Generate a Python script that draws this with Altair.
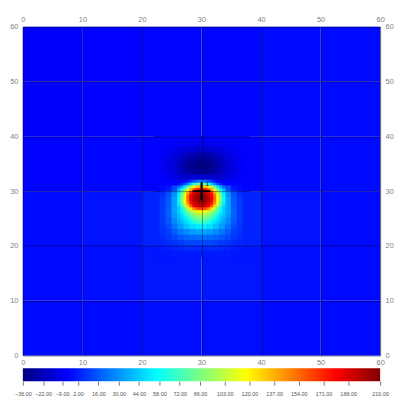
import altair as alt
import pandas as pd

AXIS_TICKS = [0, 10, 20, 30, 40, 50, 60]
CBAR_TICKS = [-36, -22, -9, 2, 16, 30, 44, 58, 72, 86, 103, 120, 137, 154, 171, 188, 210]

# Background field, 10x10 blocks. Rows: Y 50-60 (top) ... Y 0-10 (bottom); cols X 0-10 ... 50-60
BG_ROWS = [
    [-6, -5, -4, -4, -3, -3],
    [-6, -5, -4, -4, -3, -3],
    [-5, -4, -5, -5, -3, -3],
    [-3, -1, 3, 3, -1, -3],
    [-3, -2, 0, 0, -2, -3],
    [-3, -3, -2, -2, -3, -3],
]
BG_STEP = 10

# Field around the anomaly, 1x1 cells. Columns: X 22..37 (left edges); rows: Y 39 (top) .. 18
DETAIL_X0 = 22
DETAIL_YTOP = 39
DETAIL_ROWS = [
    [-5, -5, -6, -6, -6, -7, -7, -7, -7, -7, -7, -6, -6, -6, -5, -5],
    [-5, -5, -6, -7, -8, -9, -10, -11, -11, -10, -9, -8, -7, -6, -5, -5],
    [-5, -6, -8, -10, -12, -15, -17, -18, -18, -17, -15, -12, -10, -8, -6, -5],
    [-5, -7, -10, -13, -17, -21, -25, -27, -27, -25, -21, -17, -13, -10, -7, -5],
    [-5, -8, -11, -15, -21, -27, -32, -34, -34, -32, -27, -21, -15, -11, -8, -5],
    [-5, -8, -11, -15, -22, -29, -34, -36, -36, -34, -29, -22, -15, -11, -8, -5],
    [-5, -8, -11, -15, -21, -27, -31, -32, -32, -31, -27, -21, -15, -11, -8, -5],
    [-5, -7, -9, -12, -16, -18, -17, -15, -15, -17, -18, -16, -12, -9, -7, -5],
    [-5, -5, -6, -6, -2, 10, 32, 45, 45, 32, 10, -2, -6, -6, -5, -5],
    [-5, -3, 0, 12, 30, 70, 125, 150, 150, 125, 70, 30, 12, 0, -3, -5],
    [3, 6, 14, 30, 55, 115, 180, 200, 200, 180, 115, 55, 30, 14, 6, 3],
    [3, 8, 16, 34, 68, 130, 188, 208, 208, 188, 130, 68, 34, 16, 8, 3],
    [3, 9, 17, 34, 68, 125, 182, 200, 200, 182, 125, 68, 34, 17, 9, 3],
    [3, 9, 18, 34, 62, 105, 150, 165, 165, 150, 105, 62, 34, 18, 9, 3],
    [3, 9, 18, 32, 52, 80, 102, 112, 112, 102, 80, 52, 32, 18, 9, 3],
    [3, 9, 16, 28, 42, 58, 70, 75, 75, 70, 58, 42, 28, 16, 9, 3],
    [3, 8, 13, 23, 33, 42, 49, 52, 52, 49, 42, 33, 23, 13, 8, 3],
    [3, 7, 10, 17, 24, 29, 33, 35, 35, 33, 29, 24, 17, 10, 7, 3],
    [3, 5, 8, 12, 16, 19, 21, 22, 22, 21, 19, 16, 12, 8, 5, 3],
    [3, 4, 5, 7, 9, 11, 12, 12, 12, 12, 11, 9, 7, 5, 4, 3],
    [0, 1, 2, 3, 4, 5, 5, 5, 5, 5, 5, 4, 3, 2, 1, 0],
    [0, 0, 0, 1, 1, 1, 1, 1, 1, 1, 1, 1, 1, 0, 0, 0],
]

# Core of the anomaly, 0.5x0.5 cells. Columns: X 26.0..33.5 (left edges); rows: Y 31.5 (top) .. 24.0
CORE_X0 = 26.0
CORE_YTOP = 31.5
CORE_STEP = 0.5
CORE_ROWS = [
    [-9, -8, -6, -2, 5, 12, 20, 25, 25, 20, 12, 5, -2, -6, -8, -9],
    [-2, 4, 14, 28, 45, 62, 74, 80, 80, 74, 62, 45, 28, 14, 4, -2],
    [20, 34, 52, 76, 98, 115, 129, 136, 136, 129, 115, 98, 76, 52, 34, 20],
    [38, 58, 85, 113, 139, 160, 175, 181, 181, 175, 160, 139, 113, 85, 58, 38],
    [50, 75, 104, 135, 165, 183, 192, 196, 196, 192, 183, 165, 135, 104, 75, 50],
    [54, 85, 114, 150, 179, 191, 200, 204, 204, 200, 191, 179, 150, 114, 85, 54],
    [56, 88, 118, 155, 182, 195, 203, 209, 209, 203, 195, 182, 155, 118, 88, 56],
    [56, 87, 117, 153, 181, 193, 202, 208, 208, 202, 193, 181, 153, 117, 87, 56],
    [53, 82, 112, 145, 174, 189, 197, 202, 202, 197, 189, 174, 145, 112, 82, 53],
    [48, 71, 100, 128, 157, 180, 188, 192, 192, 188, 180, 157, 128, 100, 71, 48],
    [43, 57, 78, 101, 122, 144, 159, 166, 166, 159, 144, 122, 101, 78, 57, 43],
    [45, 55, 71, 85, 98, 107, 114, 117, 117, 114, 107, 98, 85, 71, 55, 45],
    [42, 50, 61, 73, 84, 92, 98, 100, 100, 98, 92, 84, 73, 61, 50, 42],
    [40, 46, 54, 64, 75, 83, 88, 90, 90, 88, 83, 75, 64, 54, 46, 40],
    [37, 43, 49, 56, 65, 73, 78, 81, 81, 78, 73, 65, 56, 49, 43, 37],
    [34, 39, 45, 49, 55, 61, 67, 69, 69, 67, 61, 55, 49, 45, 39, 34],
]

MARKER_X = [30]
MARKER_Y = [30]
MARKER_LABEL = ["1"]
MARKER_LABEL_X = [31]
MARKER_LABEL_Y = [31.3]


def cells(rows, x0, ytop, step):
    recs = []
    for r, row in enumerate(rows):
        for c, v in enumerate(row):
            cx = x0 + c * step
            cy = ytop - r * step
            recs.append({"x0": cx, "x1": cx + step, "y0": cy, "y1": cy + step, "v": v})
    return pd.DataFrame(recs)


bg_df = cells(BG_ROWS, 0, (len(BG_ROWS) - 1) * BG_STEP, BG_STEP)
det_df = cells(DETAIL_ROWS, DETAIL_X0, DETAIL_YTOP, 1)
core_df = cells(CORE_ROWS, CORE_X0, CORE_YTOP, CORE_STEP)

mk_df = pd.DataFrame({"x": MARKER_X, "y": MARKER_Y})
lb_df = pd.DataFrame({"x": MARKER_LABEL_X, "y": MARKER_LABEL_Y, "t": MARKER_LABEL})

JET_STOPS = [0, 0.125, 0.375, 0.625, 0.875, 1]
JET_COLORS = ["#000080", "#0000ff", "#00ffff", "#ffff00", "#ff0000", "#800000"]
lo, hi = CBAR_TICKS[0], CBAR_TICKS[-1]
color_scale = alt.Scale(domain=[lo + s * (hi - lo) for s in JET_STOPS], range=JET_COLORS,
                        interpolate="rgb", clamp=True)

xs = alt.Scale(domain=[0, 60], nice=False, zero=False)
ys = alt.Scale(domain=[0, 60], nice=False, zero=False)

W, H = 361, 332
lab = dict(labelFontSize=7.5, labelColor="#808080", labelFont="Liberation Sans", title=None,
           ticks=False, domain=False, values=AXIS_TICKS, labelFlush=False, labelOverlap=False)
gridstyle = dict(grid=True, zindex=1, gridColor="#000020", gridOpacity=0.4, gridWidth=1)

bg = alt.Chart(bg_df).mark_rect(strokeWidth=0).encode(
    x=alt.X("x0:Q", scale=xs, axis=alt.Axis(orient="bottom", labelPadding=3, **gridstyle, **lab)),
    x2="x1",
    y=alt.Y("y0:Q", scale=ys, axis=alt.Axis(orient="left", labelPadding=5, **gridstyle, **lab)),
    y2="y1",
    color=alt.Color("v:Q", scale=color_scale, legend=None),
)


def field(df, sw):
    return alt.Chart(df).mark_rect(strokeWidth=sw).encode(
        x=alt.X("x0:Q", scale=xs, axis=None),
        x2="x1",
        y=alt.Y("y0:Q", scale=ys, axis=None),
        y2="y1",
        color=alt.Color("v:Q", scale=color_scale, legend=None),
        stroke=alt.Stroke("v:Q", scale=color_scale, legend=None),
    )


det = field(det_df, 0.5)
core = field(core_df, 0.4)

mk = alt.Chart(mk_df).mark_point(shape="M-1,0L1,0M0,-1L0,1", size=324, filled=False,
                                 color="#000000", strokeWidth=2, opacity=1).encode(
    x=alt.X("x:Q", scale=xs, axis=alt.Axis(orient="top", labelPadding=3, grid=False, **lab)),
    y=alt.Y("y:Q", scale=ys, axis=alt.Axis(orient="right", labelPadding=5, grid=False, **lab)),
)

lb = alt.Chart(lb_df).mark_text(fontSize=6, color="#000000", font="Liberation Sans").encode(
    x=alt.X("x:Q", scale=xs, axis=None),
    y=alt.Y("y:Q", scale=ys, axis=None),
    text="t:N",
)

main = alt.layer(bg, det, core, mk, lb).resolve_axis(x="independent", y="independent").properties(
    width=W, height=H, view=alt.ViewBackground(stroke="#b8bcd8", strokeWidth=1))

cb_df = pd.DataFrame({"lo": [lo], "hi": [hi]})
grad = alt.Gradient(gradient="linear", x1=0, x2=1, y1=0, y2=0,
                    stops=[alt.GradientStop(color=c, offset=s) for s, c in zip(JET_STOPS, JET_COLORS)])
cbar = alt.Chart(cb_df).mark_rect(color=grad).encode(
    x=alt.X("lo:Q", scale=alt.Scale(domain=[lo, hi], nice=False, zero=False),
            axis=alt.Axis(values=CBAR_TICKS, format=".2f", labelFontSize=5.5, labelColor="#555555",
                          labelFont="Liberation Sans", tickSize=4, tickColor="#777777", domain=False,
                          labelPadding=6, title=None, labelOverlap=False, labelFlush=False, grid=False)),
    x2="hi",
    y=alt.value(0),
    y2=alt.value(13),
).properties(width=W, height=13, view=alt.ViewBackground(stroke=None))

chart = alt.vconcat(main, cbar, spacing=2).properties(
    padding={"left": 1, "top": 5, "right": 0, "bottom": 0}
).configure(font="Liberation Sans")

chart.save("out.html", embed_options={"renderer": "svg", "actions": False})
